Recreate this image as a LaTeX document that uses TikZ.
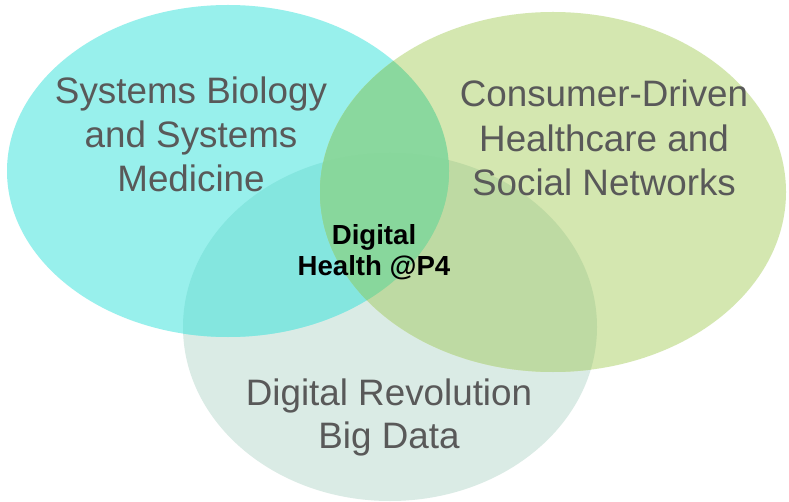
\documentclass[tikz,border=0pt]{standalone}
\usepackage{fontspec}
\setmainfont{Liberation Sans}
\definecolor{cyanA}{HTML}{98F0EC}
\definecolor{greenB}{HTML}{D4E7B0}
\definecolor{grayC}{HTML}{DAEBE5}
\definecolor{cyanGray}{HTML}{84E6DF}
\definecolor{greenGray}{HTML}{BEDAA3}
\definecolor{cyanGreen}{HTML}{8AD89E}
\definecolor{allThree}{HTML}{88D79C}
\definecolor{labelGray}{HTML}{595959}
\tikzset{
  biglabel/.style={anchor=base, inner sep=0pt, text=labelGray, font=\fontsize{36.8}{44}\selectfont},
  centerlabel/.style={anchor=base, inner sep=0pt, text=black, font=\fontsize{27.6}{31}\selectfont\bfseries},
}
\newcommand{\ellA}{(228,-171) ellipse [x radius=221, y radius=166]}
\newcommand{\ellB}{(553,-192) ellipse [x radius=233, y radius=180]}
\newcommand{\ellC}{(390,-327) ellipse [x radius=207, y radius=174]}
\begin{document}
\begin{tikzpicture}[x=1pt,y=1pt]
\useasboundingbox (0,0) rectangle (789,-502);
\fill[white] (0,0) rectangle (789,-502);
% single regions
\fill[grayC] \ellC;
\fill[cyanA] \ellA;
\fill[greenB] \ellB;
% pairwise overlaps
\begin{scope}
  \clip \ellA;
  \fill[cyanGray] \ellC;
\end{scope}
\begin{scope}
  \clip \ellB;
  \fill[greenGray] \ellC;
\end{scope}
\begin{scope}
  \clip \ellA;
  \fill[cyanGreen] \ellB;
\end{scope}
\begin{scope}
  \clip \ellA;
  \clip \ellB;
  \fill[allThree] \ellC;
\end{scope}
% labels
\node[biglabel] (sb1) at (191,-104) {Systems Biology};
\node[biglabel] (sb2) at (191,-148) {and Systems};
\node[biglabel] (sb3) at (191,-192) {Medicine};
\node[biglabel] (cd1) at (604,-107) {Consumer-Driven};
\node[biglabel] (cd2) at (604,-152) {Healthcare and};
\node[biglabel] (cd3) at (604,-196) {Social Networks};
\node[biglabel] (dr1) at (389,-405) {Digital Revolution};
\node[biglabel] (dr2) at (389,-448) {Big Data};
\node[centerlabel] (dh1) at (374,-245) {Digital};
\node[centerlabel] (dh2) at (374,-276) {Health @P4};
\end{tikzpicture}
\end{document}
